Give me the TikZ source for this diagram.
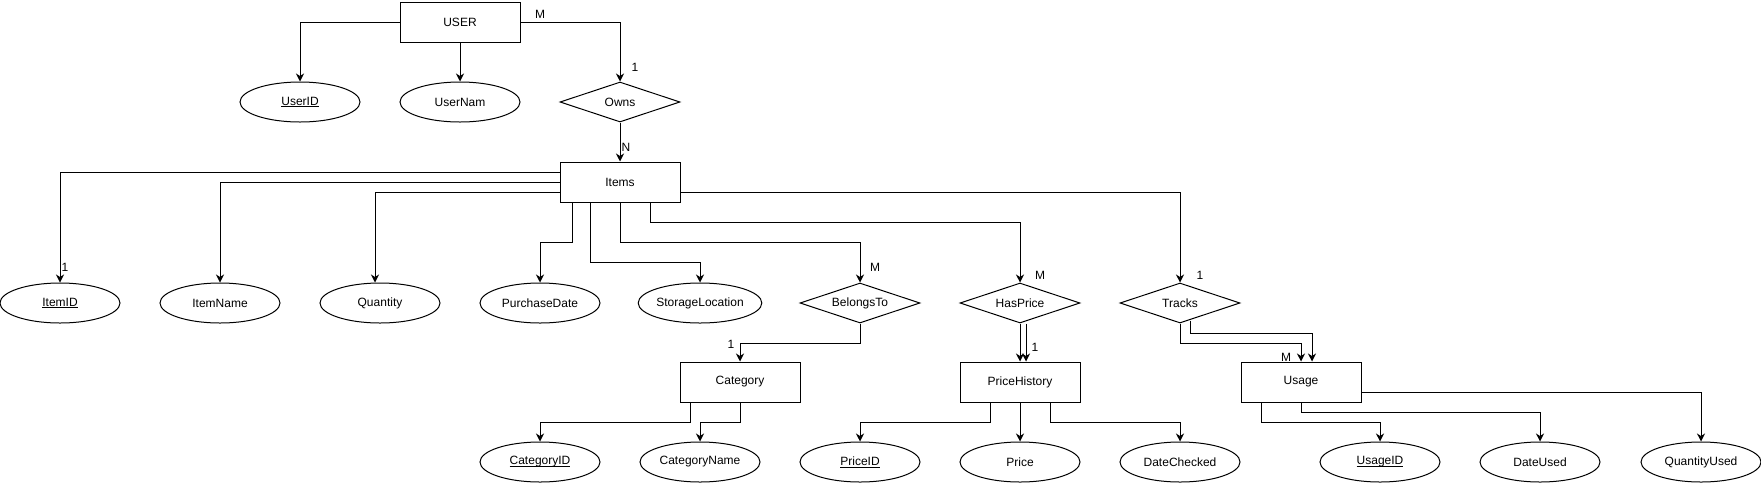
\documentclass[tikz,border=0pt]{standalone}
\usepackage{fontspec}
\setmainfont{Liberation Sans}
\usetikzlibrary{shapes.geometric,arrows.meta}

\newcommand{\keyattr}[1]{\setbox0\hbox{#1}\rlap{\raisebox{-2pt}{\rule{\wd0}{0.8pt}}}\box0}

\tikzset{
  entity/.style={draw, rectangle, minimum width=120pt, minimum height=40pt, inner sep=0pt},
  attrib/.style={draw, ellipse, minimum width=120pt, minimum height=40pt, inner sep=0pt},
  relation/.style={draw, diamond, aspect=3, minimum width=120pt, minimum height=40pt, inner sep=0pt},
  link/.style={-{Stealth[length=8pt,width=8pt,inset=2.5pt]}},
  card/.style={inner sep=0pt},
}

\begin{document}
\begin{tikzpicture}[x=1pt, y=-1pt, line width=1pt, font=\fontsize{12}{14}\selectfont]
    \useasboundingbox (0,0) rectangle (1761,483);

    % entities
    \node[entity] (user) at (460,22) {USER};
    \node[entity] (items) at (620,182) {Items};
    \node[entity] (category) at (740,382) {Category};
    \node[entity] (pricehist) at (1020,382) {PriceHistory};
    \node[entity] (usage) at (1301,382) {Usage};

    % relationships
    \node[relation] (owns) at (620,102) {Owns};
    \node[relation] (belongs) at (860,303) {BelongsTo};
    \node[relation] (hasprice) at (1020,303) {HasPrice};
    \node[relation] (tracks) at (1180,303) {Tracks};

    % attributes
    \node[attrib] (userid) at (300,102) {\keyattr{UserID}};
    \node[attrib] (usernam) at (460,102) {UserNam};
    \node[attrib] (itemid) at (60,303) {\keyattr{ItemID}};
    \node[attrib] (itemname) at (220,303) {ItemName};
    \node[attrib] (quantity) at (380,303) {Quantity};
    \node[attrib] (purchase) at (540,303) {PurchaseDate};
    \node[attrib] (storage) at (700,303) {StorageLocation};
    \node[attrib] (catid) at (540,462) {\keyattr{CategoryID}};
    \node[attrib] (catname) at (700,462) {CategoryName};
    \node[attrib] (priceid) at (860,462) {\keyattr{PriceID}};
    \node[attrib] (price) at (1020,462) {Price};
    \node[attrib] (datechecked) at (1180,462) {DateChecked};
    \node[attrib] (usageid) at (1380,462) {\keyattr{UsageID}};
    \node[attrib] (dateused) at (1540,462) {DateUsed};
    \node[attrib] (qtyused) at (1701,462) {QuantityUsed};

    % USER
    \draw[link] (user.west) -| (userid.north);
    \draw[link] (user.south) -- (usernam.north);
    \draw[link] (user.east) -| (owns.north);
    \draw[link] (owns.south) -- (items.north);

    % Items
    \draw[link] ([yshift=10pt]items.west) -| (itemid.north);
    \draw[link] (items.west) -| (itemname.north);
    \draw[link] ([yshift=-10pt]items.west) -| ([xshift=-5pt]quantity.north);
    \draw[link] ([xshift=-48pt]items.south) -- ++(0,40) -| (purchase.north);
    \draw[link] ([xshift=-30pt]items.south) -- ++(0,60) -| (storage.north);
    \draw[link] (items.south) -- ++(0,40) -| (belongs.north);
    \draw[link] ([xshift=30pt]items.south) -- ++(0,20) -| (hasprice.north);
    \draw[link] ([yshift=-10pt]items.east) -| (tracks.north);

    % relationships to entities
    \draw[link] (belongs.south) -- ++(0,20) -| (category.north);
    \draw[link] (hasprice.south) -- (pricehist.north);
    \draw[link] ([xshift=6pt]hasprice.south) -- ([xshift=6pt]pricehist.north);
    \draw[link] (tracks.south) -- ++(0,20) -| (usage.north);
    \draw[link] ([xshift=10pt,yshift=3pt]tracks.south) -- ++(0,13) -| ([xshift=11pt]usage.north);

    % Category
    \draw[link] ([xshift=-50pt]category.south) -- ++(0,20) -| (catid.north);
    \draw[link] (category.south) -- ++(0,20) -| (catname.north);

    % PriceHistory
    \draw[link] ([xshift=-30pt]pricehist.south) -- ++(0,20) -| (priceid.north);
    \draw[link] (pricehist.south) -- (price.north);
    \draw[link] ([xshift=30pt]pricehist.south) -- ++(0,20) -| (datechecked.north);

    % Usage
    \draw[link] ([xshift=-40pt]usage.south) -- ++(0,20) -| (usageid.north);
    \draw[link] (usage.south) -- ++(0,10) -| (dateused.north);
    \draw[link] ([yshift=-10pt]usage.east) -| (qtyused.north);

    % cardinalities
    \node[card] (cUser) at (540,14) {M};
    \node[card] (cOwns) at (635,67) {1};
    \node[card] (cItems) at (626,147) {N};
    \node[card] (cItemID) at (65,267) {1};
    \node[card] (cBelongs) at (875,267) {M};
    \node[card] (cHasPrice) at (1040,275) {M};
    \node[card] (cTracks) at (1200,275) {1};
    \node[card] (cCategory) at (731,344) {1};
    \node[card] (cPriceHist) at (1035,347) {1};
    \node[card] (cUsage) at (1286,357) {M};
\end{tikzpicture}
\end{document}
